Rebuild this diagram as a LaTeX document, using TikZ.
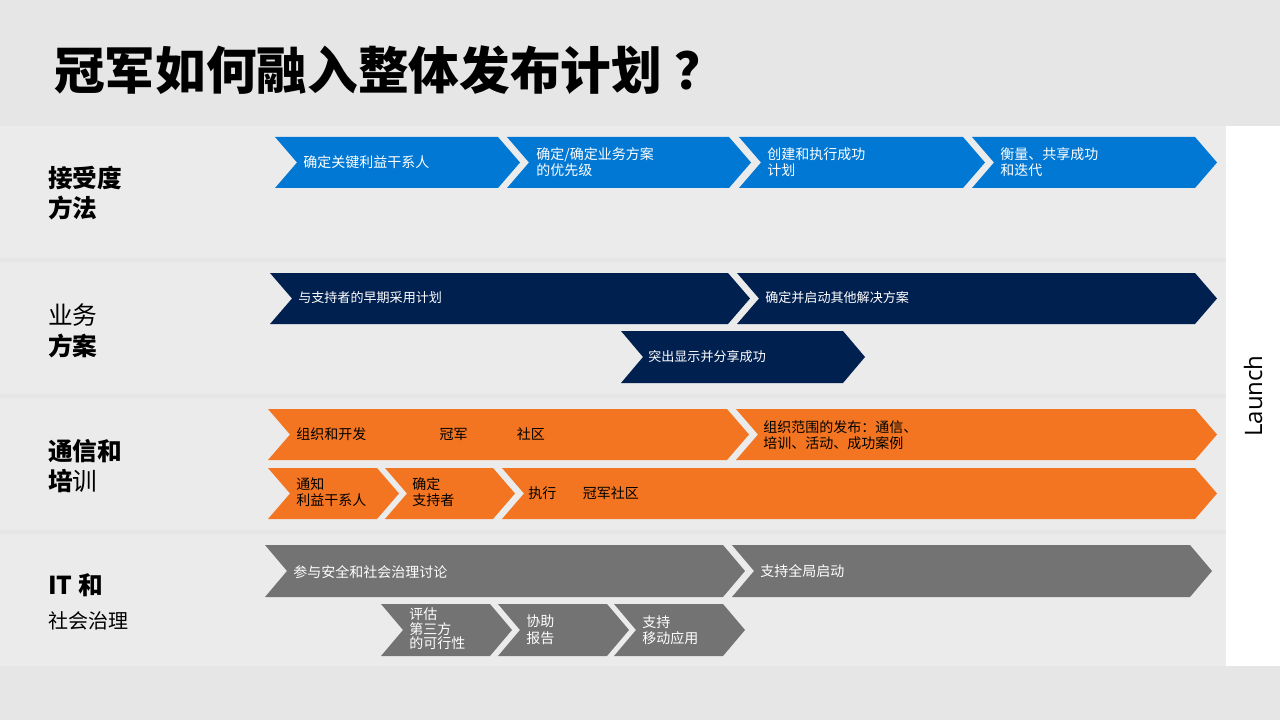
\documentclass[tikz,border=0pt]{standalone}
\usepackage{fontspec}
\setmainfont{Noto Sans CJK SC}
\newfontfamily\launchfont{Open Sans}
\usetikzlibrary{positioning}
\definecolor{pagegray}{HTML}{E6E6E6}
\definecolor{bandgray}{HTML}{EBEBEB}
\definecolor{msblue}{HTML}{0078D4}
\definecolor{navyblue}{HTML}{002050}
\definecolor{msorange}{HTML}{F37521}
\definecolor{stepgray}{HTML}{737373}
% chevron: left x, right x, top y, bottom y, colour
\newcommand{\chev}[5]{\fill[#5] (#1,#3) -- (#2,#3) -- ({#2+22},{(#3+#4)/2}) -- (#2,#4) -- (#1,#4) -- ({#1+22},{(#3+#4)/2}) -- cycle;}
\tikzset{
  steptext/.style={anchor=west,inner sep=0pt,align=left,text=white,font=\fontsize{10.5}{12.4}\selectfont},
  smalltext/.style={steptext,font=\fontsize{9.8}{12}\selectfont},
  darktext/.style={steptext,text=black},
  rowlabel/.style={anchor=west,inner sep=0pt,align=left,font=\fontsize{18.5}{23}\selectfont}
}
\begin{document}
\begin{tikzpicture}[x=0.75pt,y=-0.75pt]
				\useasboundingbox (0,0) rectangle (1280,720);
				\fill[pagegray] (0,0) rectangle (1280,720);
				\foreach \yt/\yb in {126/258,262/394,398/530,534/666}
					\fill[bandgray] (0,\yt) rectangle (1226,\yb);
				\fill[white] (1226,126) rectangle (1280,666);
				\node[anchor=west,inner sep=0pt,font=\bfseries\fontsize{38}{40}\selectfont] (title) at (54,70) {冠军如何融入整体发布计划\hspace{0.25em}？};
				% row labels
				\node[rowlabel] (acclabel) at (48,193) {\bfseries 接受度\\\bfseries 方法};
				\node[rowlabel] (bizlabel) at (48,331) {业务\\\bfseries 方案};
				\node[rowlabel] (comlabel) at (48,466) {\bfseries 通信和\\{\bfseries 培}训};
				\node[rowlabel] (itlabel) at (48,602) {\bfseries IT 和\\[2pt]\fontsize{15}{18}\selectfont 社会治理};
				\node[rotate=90,inner sep=0pt,font=\launchfont\fontsize{18}{20}\selectfont] (launch) at (1253,396) {Launch};
				% acceptance
				\chev{275}{498}{137}{188}{msblue}
				\chev{507}{729}{137}{188}{msblue}
				\chev{739}{963}{137}{188}{msblue}
				\chev{972}{1195}{137}{188}{msblue}
				\node[steptext] (acc1) at (303,162) {确定关键利益干系人};
				\node[steptext] (acc2) at (536,162) {确定/确定业务方案\\的优先级};
				\node[steptext] (acc3) at (767,162) {创建和执行成功\\计划};
				\node[steptext] (acc4) at (1000,162) {衡量、共享成功\\和迭代};
				% business
				\chev{270}{728}{273}{324}{navyblue}
				\chev{737}{1195}{273}{324}{navyblue}
				\chev{621}{843}{331}{383}{navyblue}
				\node[smalltext] (biz1) at (298,298) {与支持者的早期采用计划};
				\node[smalltext] (biz2) at (765,298) {确定并启动其他解决方案};
				\node[smalltext] (biz3) at (648,357) {突出显示并分享成功};
				% communication
				\chev{268}{727}{409}{460}{msorange}
				\chev{736}{1195}{409}{460}{msorange}
				\chev{268}{377}{468}{519}{msorange}
				\chev{385}{493}{468}{519}{msorange}
				\chev{502}{1195}{468}{519}{msorange}
				\node[darktext] (com1) at (296,434) {组织和开发\hspace{55pt}冠军\hspace{37pt}社区};
				\node[darktext] (com2) at (763,435) {组织范围的发布：通信、\\培训、活动、成功案例};
				\node[darktext] (com3) at (296,492) {通知\\利益干系人};
				\node[darktext] (com4) at (412,492) {确定\\支持者};
				\node[darktext] (com5) at (528,493) {执行\hspace{20pt}冠军社区};
				% it
				\chev{265}{723}{545}{597}{stepgray}
				\chev{732}{1190}{545}{597}{stepgray}
				\chev{381}{490}{604}{656}{stepgray}
				\chev{498}{607}{604}{656}{stepgray}
				\chev{614}{723}{604}{656}{stepgray}
				\node[steptext] (it1) at (293,572) {参与安全和社会治理讨论};
				\node[steptext] (it2) at (760,571) {支持全局启动};
				\node[steptext,font=\fontsize{10.5}{11}\selectfont] (it3) at (409,629) {评估\\第三方\\的可行性};
				\node[steptext] (it4) at (526,630) {协助\\报告};
				\node[steptext] (it5) at (642,630) {支持\\移动应用};
			\end{tikzpicture}
\end{document}
